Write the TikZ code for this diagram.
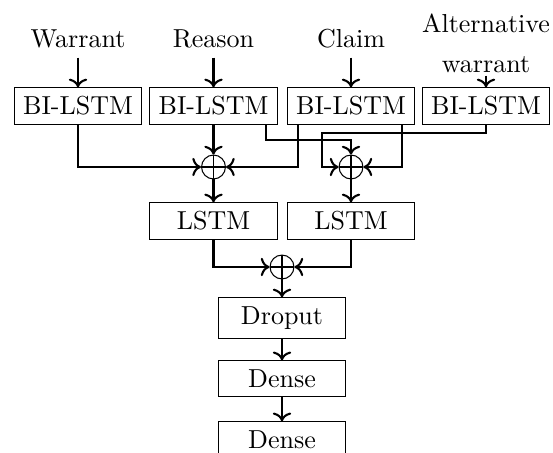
\documentclass[tikz,border=0pt]{standalone}
\usepackage{amsmath,amssymb}
\usepackage{tikz}
\usetikzlibrary{arrows.meta, positioning}

\begin{document}
\begin{tikzpicture}[x=0.3846pt, y=-0.3846pt,
    block/.style={draw, minimum width=49pt, inner sep=3.33pt},
    sum/.style={draw, circle, minimum size=9.2pt, inner sep=0pt,
      path picture={\draw (path picture bounding box.north) -- (path picture bounding box.south)
        (path picture bounding box.west) -- (path picture bounding box.east);}},
    lbl/.style={inner sep=3.33pt},
    conn/.style={->, thick}]
    \useasboundingbox (0,0) rectangle (553,453);
    % inputs
    \node[lbl, anchor=base] (warrant) at (78,48) {Warrant};
    \node[lbl, anchor=base] (reason) at (213.5,48) {Reason};
    \node[lbl, anchor=base] (claim) at (351,48) {Claim};
    \node[lbl, inner sep=1pt, align=center, anchor=south] (altw) at (486,75.6) {Alternative\\[3.3pt]warrant};
    % encoders
    \node[block] (bi1) at (78,106) {BI-LSTM};
    \node[block] (bi2) at (213.5,106) {BI-LSTM};
    \node[block] (bi3) at (351,106) {BI-LSTM};
    \node[block] (bi4) at (486,106) {BI-LSTM};
    \node[sum] (sum1) at (213.5,167) {};
    \node[sum] (sum2) at (351,167) {};
    \node[block] (lstm1) at (213.5,221) {LSTM};
    \node[block] (lstm2) at (351,221) {LSTM};
    \node[sum] (sum3) at (282,267) {};
    \node[block] (drop) at (282,318) {Droput};
    \node[block] (dense1) at (282,378.5) {Dense};
    \node[block] (dense2) at (282,439.5) {Dense};
    % connectors
    \draw[conn] (warrant) -- (bi1);
    \draw[conn] (reason) -- (bi2);
    \draw[conn] (claim) -- (bi3);
    \draw[conn] (altw) -- (bi4);
    \draw[conn] (bi1) |- (sum1);
    \draw[conn] (bi2) -- (sum1);
    \draw[conn] ([xshift=4.3pt]bi3.south west) |- (sum1);
    \draw[conn] ([xshift=-4.5pt]bi2.south east) -- ++(0,15) -| (sum2);
    \draw[conn] (bi4.south) -- ++(0,8) -| ([xshift=-6.5pt]sum2.west) -- (sum2);
    \draw[conn] ([xshift=-5pt]bi3.south east) |- (sum2);
    \draw[conn] (sum1) -- (lstm1);
    \draw[conn] (sum2) -- (lstm2);
    \draw[conn] (lstm1) |- (sum3);
    \draw[conn] (lstm2) |- (sum3);
    \draw[conn] (sum3) -- (drop);
    \draw[conn] (drop) -- (dense1);
    \draw[conn] (dense1) -- (dense2);
\end{tikzpicture}
\end{document}
